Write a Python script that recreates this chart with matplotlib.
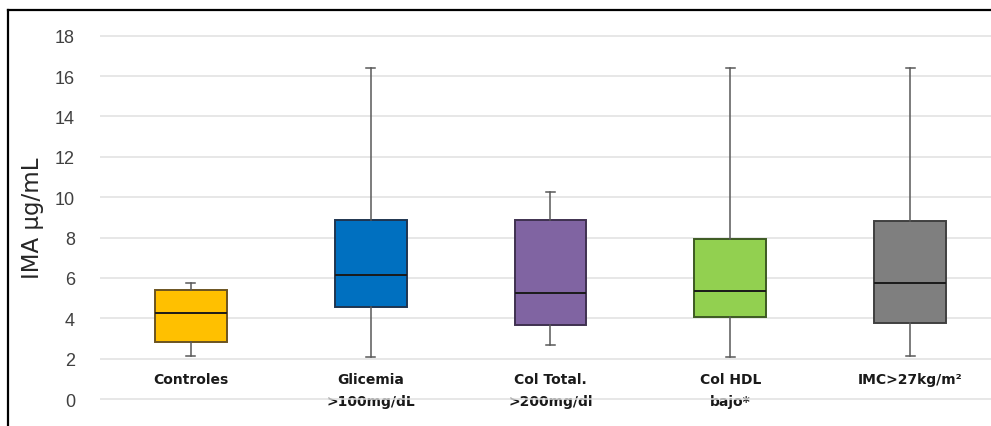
import numpy as np
import matplotlib.pyplot as plt

categories = ['Controles', 'Glicemia\n>100mg/dL', 'Col Total.\n>200mg/dl', 'Col HDL\nbajo*', 'IMC>27kg/m²']
whisker_low = [2.14, 2.10, 2.67, 2.10, 2.14]
q1 = [2.82, 4.54, 3.65, 4.08, 3.76]
median = [4.24, 6.14, 5.27, 5.33, 5.76]
q3 = [5.38, 8.88, 8.87, 7.92, 8.82]
whisker_high = [5.76, 16.38, 10.24, 16.38, 16.38]
yticks = [0, 2, 4, 6, 8, 10, 12, 14, 16, 18]

colors = ['#FFC000', '#0070C0', '#8064A2', '#92D050', '#7F7F7F']
edges = ['#6b5420', '#1f3550', '#3f3150', '#3d5a22', '#404040']

fig = plt.figure(figsize=(9.91, 4.27), dpi=100)
ax = fig.add_axes([100/991, 0, 891/991, 1])

ppu = 20.19  # pixels per unit
ax.set_ylim(-27/ppu, 18 + 36.7/ppu)
ax.set_xlim(-91/180, 4 + 81/180)

for s in ax.spines.values():
    s.set_visible(False)
ax.set_yticks(yticks)
ax.set_yticklabels([str(t) for t in yticks], fontsize=13, color='#404040', family='Liberation Sans')
ax.tick_params(axis='y', length=0, pad=18)
ax.yaxis.grid(True, color='#e0e0e0', linewidth=1.1)
ax.set_axisbelow(True)

pos = np.arange(len(categories))
stats = []
for i in range(len(categories)):
    stats.append({'whislo': whisker_low[i], 'q1': q1[i], 'med': median[i],
                  'q3': q3[i], 'whishi': whisker_high[i], 'fliers': []})

bp = ax.bxp(stats, positions=pos, widths=0.4, patch_artist=True, showfliers=False,
            capwidths=0.05,
            whiskerprops=dict(color='#595959', linewidth=1.1),
            capprops=dict(color='#595959', linewidth=1.1),
            medianprops=dict(color='#1a1a1a', linewidth=1.4))
for box, c, e in zip(bp['boxes'], colors, edges):
    box.set_facecolor(c)
    box.set_edgecolor(e)
    box.set_linewidth(1.4)

# category labels sit just under the 2-line, like the excel chart
ax.spines['bottom'].set_position(('data', 1.34))
ax.set_xticks(pos)
ax.set_xticklabels(categories, fontsize=10, fontweight='bold', color='#1a1a1a', linespacing=1.7)
ax.tick_params(axis='x', length=0, pad=0)

fig.text(33/991, 1 - 218/427, 'IMA µg/mL', rotation=90, ha='center', va='center',
         fontsize=16.5, color='#262626')

# outer frame (top and left edges visible)
fig.add_artist(plt.Line2D([7.5/991, 7.5/991], [0, 1 - 11/427], transform=fig.transFigure,
                          color='black', linewidth=1.6))
fig.add_artist(plt.Line2D([7.5/991, 1], [1 - 11/427, 1 - 11/427], transform=fig.transFigure,
                          color='black', linewidth=1.6))

plt.savefig('out.png', dpi=100)
